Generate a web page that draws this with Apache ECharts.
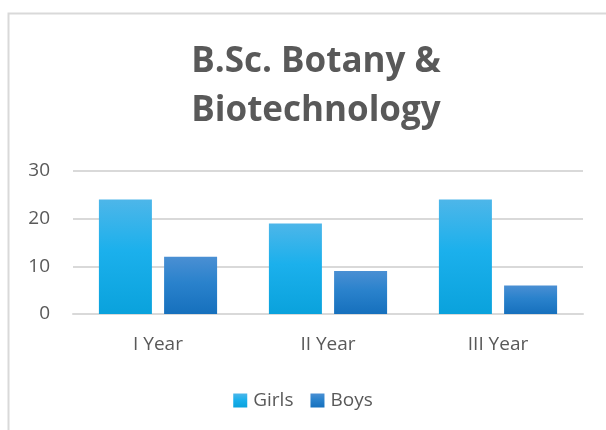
<!DOCTYPE html>
<html>
<head>
<meta charset="utf-8">
<script src="https://cdn.jsdelivr.net/npm/echarts@6/dist/echarts.min.js"></script>
<style>
  html, body { margin: 0; padding: 0; background: #fff; }
  #chart { width: 606px; height: 430px; }
</style>
</head>
<body>
<div id="chart"></div>
<script>
// chart data
var categories = ['I Year', 'II Year', 'III Year'];
var girls = [24, 19, 24];
var boys = [12, 9, 6];
var yTicks = [0, 10, 20, 30];

var chart = echarts.init(document.getElementById('chart'));

function grad(top, bottom) {
	return new echarts.graphic.LinearGradient(0, 0, 0, 1, [
		{ offset: 0, color: top },
		{ offset: 0.45, color: bottom[0] },
		{ offset: 1, color: bottom[1] }
	]);
}

var barShadow = {
	shadowBlur: 4,
	shadowColor: 'rgba(0,0,0,0.3)',
	shadowOffsetX: 1,
	shadowOffsetY: 1
};

var option = {
	backgroundColor: '#fff',
	textStyle: { fontFamily: '"Open Sans", sans-serif', color: '#595959' },
	graphic: [
		{
			type: 'rect',
			shape: { x: 8.5, y: 13.5, width: 640, height: 450 },
			style: { fill: 'none', stroke: '#d9d9d9', lineWidth: 2 },
			silent: true
		}
	],
	title: {
		text: 'B.Sc. Botany &\nBiotechnology',
		left: 311,
		top: 33,
		textAlign: 'center',
		textStyle: {
			fontFamily: '"Open Sans", sans-serif',
			fontSize: 35,
			fontWeight: 'bold',
			color: '#595959',
			lineHeight: 49
		}
	},
	legend: {
		data: ['Girls', 'Boys'],
		left: 'center',
		top: 386,
		itemWidth: 14,
		itemHeight: 14,
		itemGap: 17,
		icon: 'rect',
		textStyle: { fontSize: 19, color: '#595959', padding: [0, 0, 0, 1] }
	},
	grid: {
		left: 73,
		right: 23,
		top: 171,
		bottom: 116
	},
	xAxis: {
		type: 'category',
		data: categories,
		axisLine: { show: true, lineStyle: { color: '#d9d9d9', width: 2 } },
		axisTick: { show: false },
		axisLabel: { fontSize: 19, color: '#595959', margin: 21 }
	},
	yAxis: {
		type: 'value',
		min: yTicks[0],
		max: yTicks[yTicks.length - 1],
		interval: 10,
		axisLine: { show: false },
		axisTick: { show: false },
		splitLine: { lineStyle: { color: '#d9d9d9', width: 2 } },
		axisLabel: { fontSize: 19, color: '#595959', margin: 23 }
	},
	series: [
		{
			name: 'Girls',
			type: 'bar',
			data: girls,
			barWidth: 53,
			barGap: '23%',
			itemStyle: Object.assign({
				color: grad('#4db6e9', ['#1bb0ec', '#0aa2dc'])
			}, barShadow)
		},
		{
			name: 'Boys',
			type: 'bar',
			data: boys,
			barWidth: 53,
			itemStyle: Object.assign({
				color: grad('#4a8fd3', ['#2a82cc', '#1670bd'])
			}, barShadow)
		}
	]
};

chart.setOption(option);
</script>
</body>
</html>
